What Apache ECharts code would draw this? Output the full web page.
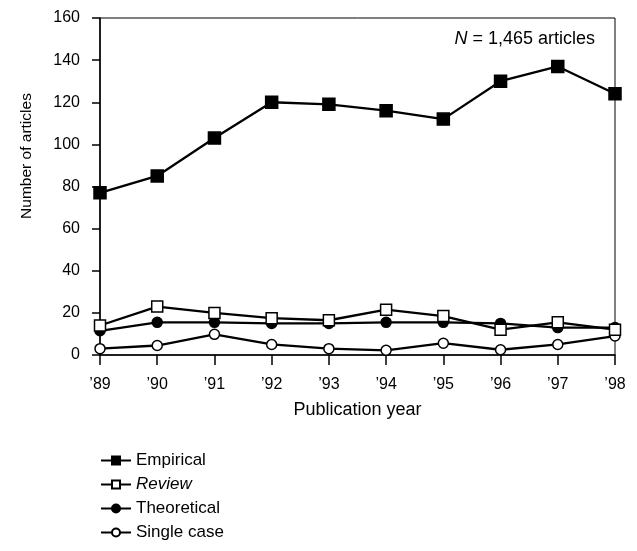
<!DOCTYPE html>
<html>
<head>
<meta charset="utf-8">
<script src="https://cdn.jsdelivr.net/npm/echarts@6/dist/echarts.min.js"></script>
<style>html,body{margin:0;padding:0;background:#fff}#c{width:637px;height:551px}</style>
</head>
<body>
<div id="c"></div>
<script>
const years = ["’89","’90","’91","’92","’93","’94","’95","’96","’97","’98"];
const empirical   = [77, 85, 103, 120, 119, 116, 112, 130, 137, 124];
const review      = [14, 23, 20, 17.5, 16.5, 21.5, 18.5, 12, 15.5, 12];
const theoretical = [11.5, 15.5, 15.5, 15, 15, 15.5, 15.5, 15, 13, 13];
const singleCase  = [3, 4.5, 9.8, 5, 3, 2.2, 5.6, 2.5, 5, 9];
const yTicks = [0, 20, 40, 60, 80, 100, 120, 140, 160];

const FONT = 'Arial, "Liberation Sans", sans-serif';
const chart = echarts.init(document.getElementById('c'));
const base = {type:'line', lineStyle:{color:'#000', width:2.3}, itemStyle:{color:'#000', borderColor:'#000', borderWidth:1.5}, symbolKeepAspect:true, showAllSymbol:true, animation:false};
chart.setOption({
  backgroundColor:'#fff',
  animation:false,
  grid:{left:100, right:22, top:18, bottom:196, show:true, borderColor:'#000', borderWidth:1, backgroundColor:'transparent'},
  xAxis:{type:'category', data:years, boundaryGap:false,
    axisLine:{lineStyle:{color:'#000', width:1.5}},
    axisTick:{show:true, length:10, inside:false, lineStyle:{color:'#000', width:1.5}},
    axisLabel:{color:'#000', fontSize:16, fontFamily:FONT, margin:22},
    name:'Publication year', nameLocation:'middle', nameGap:46,
    nameTextStyle:{color:'#000', fontSize:18, fontFamily:FONT},
    splitLine:{show:false}},
  yAxis:{type:'value', min:0, max:160, interval:20,
    axisLine:{show:true, lineStyle:{color:'#000', width:1.5}},
    axisTick:{show:true, length:8, lineStyle:{color:'#000', width:1.5}},
    axisLabel:{color:'#000', fontSize:16, fontFamily:FONT, margin:20,
      formatter: v => yTicks.includes(v) ? String(v) : ''},
    splitLine:{show:false}},
  legend:{orient:'vertical', left:100, top:452, height:110, padding:0, itemWidth:30, itemHeight:10, itemGap:7,
    data:['Empirical','Review','Theoretical','Single case'],
    textStyle:{color:'#000', fontSize:17, fontFamily:FONT, rich:{i:{fontStyle:'italic', fontSize:17, fontFamily:FONT, color:'#000'}}},
    formatter: n => n==='Review' ? '{i|Review}' : n},
  graphic:[
    {type:'text', left:'auto', right:42, top:30, style:{rich:{i:{fontStyle:'italic', fontSize:18, fontFamily:FONT, fill:'#000'}, n:{fontSize:18, fontFamily:FONT, fill:'#000'}}, text:'{i|N}{n| = 1,465 articles}'}},
    {type:'text', x:27, y:156, rotation:Math.PI/2, style:{text:'Number of articles', fontSize:15.5, fontFamily:FONT, fill:'#000', align:'center', verticalAlign:'middle'}}
  ],
  series:[
    Object.assign({}, base, {name:'Empirical', data:empirical, symbol:'rect', symbolSize:12, z:3}),
    Object.assign({}, base, {name:'Theoretical', data:theoretical, symbol:'circle', symbolSize:10, z:3}),
    Object.assign({}, base, {name:'Single case', data:singleCase, symbol:'circle', symbolSize:10, itemStyle:{color:'#fff', borderColor:'#000', borderWidth:1.5}, z:3}),
    Object.assign({}, base, {name:'Review', data:review, symbol:'rect', symbolSize:11, itemStyle:{color:'#fff', borderColor:'#000', borderWidth:1.5}, z:4})
  ]
});
</script>
</body>
</html>
